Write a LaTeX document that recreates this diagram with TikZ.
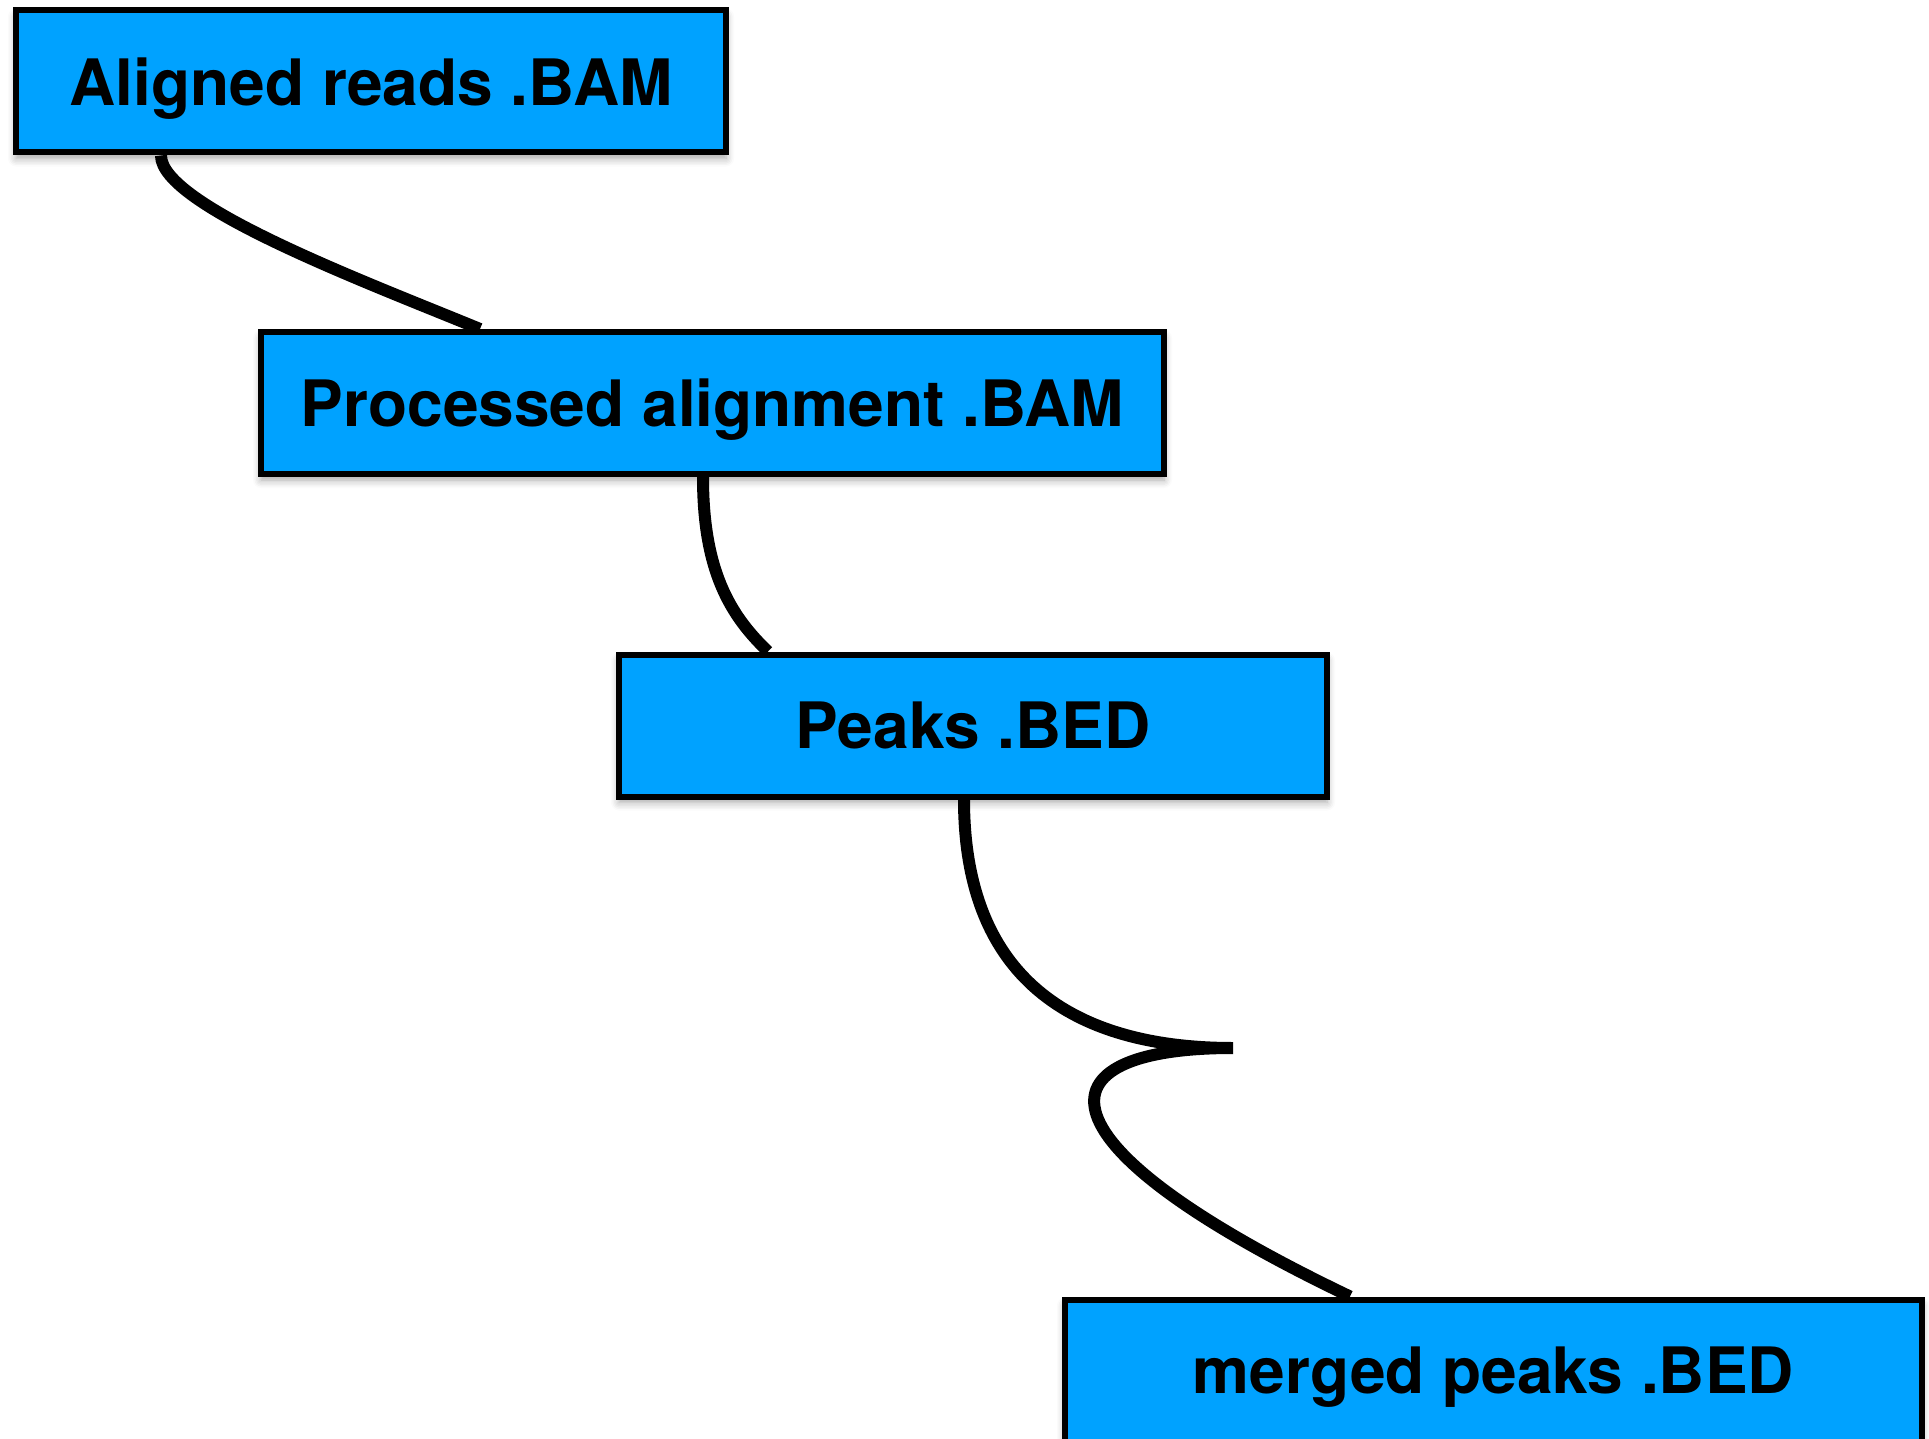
\documentclass[tikz,border=0pt]{standalone}
\usepackage{fontspec}
\newfontfamily\helv{TeX Gyre Heros}
\usetikzlibrary{calc,shadows.blur}
\definecolor{boxblue}{HTML}{00A2FF}
\tikzset{
  filebox/.style={draw=black, line width=3pt, fill=boxblue, rectangle,
    minimum height=71pt, inner sep=0pt, text depth=0pt, font=\helv\bfseries\fontsize{32}{38}\selectfont,
    blur shadow={shadow xshift=0pt, shadow yshift=-3pt, shadow blur steps=6, shadow opacity=35, shadow blur radius=4pt}},
  link/.style={draw=black, line width=6pt}
}
\begin{document}
\begin{tikzpicture}[x=0.5pt,y=-0.5pt]
\useasboundingbox (0,0) rectangle (1929,1439);
\node[filebox, minimum width=355pt] (a) at (371,81.5) {Aligned reads .BAM};
\node[filebox, minimum width=451.5pt] (b) at (712.5,403) {Processed alignment .BAM};
\node[filebox, minimum width=354pt] (c) at (973,725.5) {Peaks .BED};
\node[filebox, minimum width=428.5pt] (d) at (1493.5,1370.5) {merged peaks .BED};
\coordinate (cusp) at (1233,1048);
\draw[link] ($(a.south west)+(148,0)$) .. controls +(0,50) and +(-114,-47) .. ($(b.north west)+(222,0)$);
\draw[link] ($(b.south west)+(445,0)$) .. controls +(0,92) and +(-39,-37) .. ($(c.north west)+(152,0)$);
\draw[link] ($(c.south west)+(348,0)$) .. controls +(0,187) and +(-150,0) .. (cusp)
  .. controls +(-200,0) and +(-320,-153) .. ($(d.north west)+(288,0)$);
\end{tikzpicture}
\end{document}
